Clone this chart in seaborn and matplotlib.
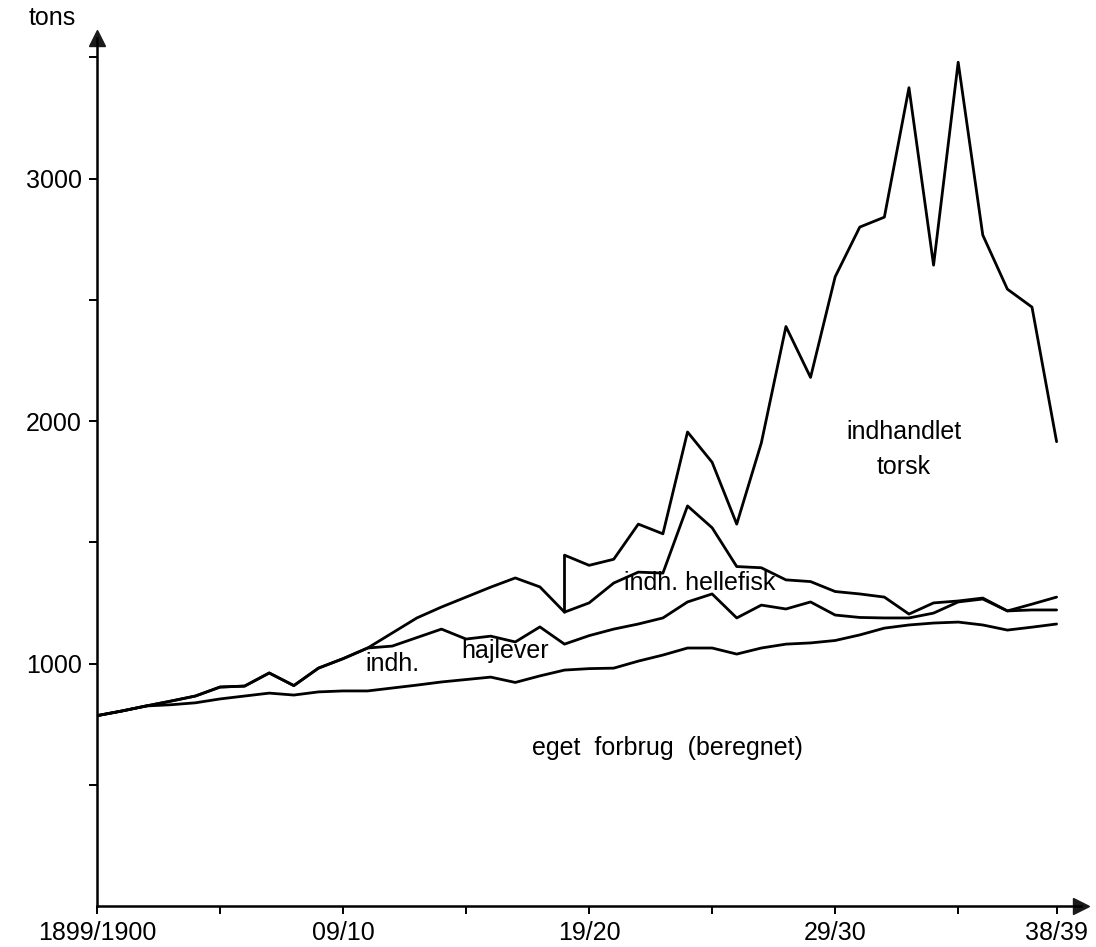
import matplotlib
matplotlib.use("Agg")
import matplotlib.pyplot as plt
import seaborn as sns
import numpy as np

sns.set_theme(style="white")
plt.rcParams['font.family'] = ['Liberation Sans', 'DejaVu Sans']
plt.rcParams['text.color'] = 'black'

# år 1899/1900 = 0 ... 1938/39 = 39
years = np.arange(40)

# kumulative kurver (tons)
eget_forbrug = [785, 804, 825, 830, 838, 854, 866, 878, 870, 883,
                887, 887, 899, 911, 924, 934, 944, 922, 949, 973,
                979, 981, 1010, 1035, 1064, 1064, 1039, 1064, 1080, 1085,
                1095, 1118, 1146, 1159, 1167, 1171, 1159, 1138, 1150, 1163]
plus_hajlever = [785, 804, 825, 845, 866, 903, 907, 961, 909, 981,
                 1020, 1064, 1072, 1107, 1142, 1101, 1113, 1089, 1151, 1080,
                 1115, 1142, 1163, 1188, 1254, 1287, 1188, 1241, 1225, 1254,
                 1200, 1190, 1188, 1188, 1208, 1254, 1266, 1217, 1221, 1221]
plus_hellefisk = [785, 804, 825, 845, 866, 903, 907, 961, 909, 981,
                  1020, 1064, 1126, 1188, 1233, 1274, 1315, 1353, 1316, 1212,
                  1250, 1332, 1377, 1373, 1650, 1560, 1400, 1395, 1345, 1338,
                  1297, 1287, 1274, 1204, 1250, 1258, 1270, 1217, 1245, 1274]
# torsk indhandlet fra 1918/19
torsk_years = years[19:]
plus_torsk = [1447, 1405, 1430, 1575, 1535, 1955, 1830, 1575, 1910, 2390,
              2180, 2595, 2800, 2841, 3375, 2643, 3480, 2767, 2544, 2470, 1915]

xtick_pos = [0, 5, 10, 15, 20, 25, 30, 35, 39]
xtick_lab = ["1899/1900", "", "09/10", "", "19/20", "", "29/30", "", "38/39"]
ytick_pos = [500, 1000, 1500, 2000, 2500, 3000, 3500]
ytick_lab = ["", "1000", "", "2000", "", "3000", ""]

fig = plt.figure(figsize=(10.96, 9.47), dpi=100)
ax = fig.add_axes([0.0885, 0.0433, 0.898, 0.9166])

lw = 2.0
for vals in [eget_forbrug, plus_hajlever, plus_hellefisk]:
    sns.lineplot(x=years, y=vals, ax=ax, color="black", lw=lw,
                 estimator=None, sort=False)
# torsk-kurven starter med lodret streg fra hellefisk-kurven
tx = [torsk_years[0]] + list(torsk_years)
ty = [plus_hellefisk[19]] + plus_torsk
sns.lineplot(x=tx, y=ty, ax=ax, color="black", lw=lw, estimator=None, sort=False)

ax.set_xlim(0, 40)
ax.set_ylim(0, 3580)
sns.despine(ax=ax)
for s in ["left", "bottom"]:
    ax.spines[s].set_color("black")
    ax.spines[s].set_linewidth(1.8)

ax.set_xticks(xtick_pos)
ax.set_xticklabels(xtick_lab)
ax.set_yticks(ytick_pos)
ax.set_yticklabels(ytick_lab)
ax.tick_params(axis="both", bottom=True, left=True, direction="out", length=6,
               width=1.4, colors="black", labelsize=18, pad=5)
ax.set_xlabel("")
ax.set_ylabel("")

# pile for enden af akserne
ax.plot(1, 0, ">k", ms=11, transform=ax.transAxes, clip_on=False)
ax.plot(0, 1, "^k", ms=11, transform=ax.transAxes, clip_on=False)
fig.text(52 / 1096, 1 - 18 / 947, "tons", ha="center", va="center", fontsize=18)

fs = 18
ax.text(32.8, 1955, "indhandlet", ha="center", va="center", fontsize=fs)
ax.text(32.8, 1810, "torsk", ha="center", va="center", fontsize=fs)
ax.text(24.5, 1332, "indh. hellefisk", ha="center", va="center", fontsize=fs)
ax.text(12.0, 998, "indh.", ha="center", va="center", fontsize=fs)
ax.text(16.6, 1050, "hajlever", ha="center", va="center", fontsize=fs)
ax.text(23.2, 652, "eget  forbrug  (beregnet)", ha="center", va="center", fontsize=fs)

fig.savefig("out.png", dpi=100)
